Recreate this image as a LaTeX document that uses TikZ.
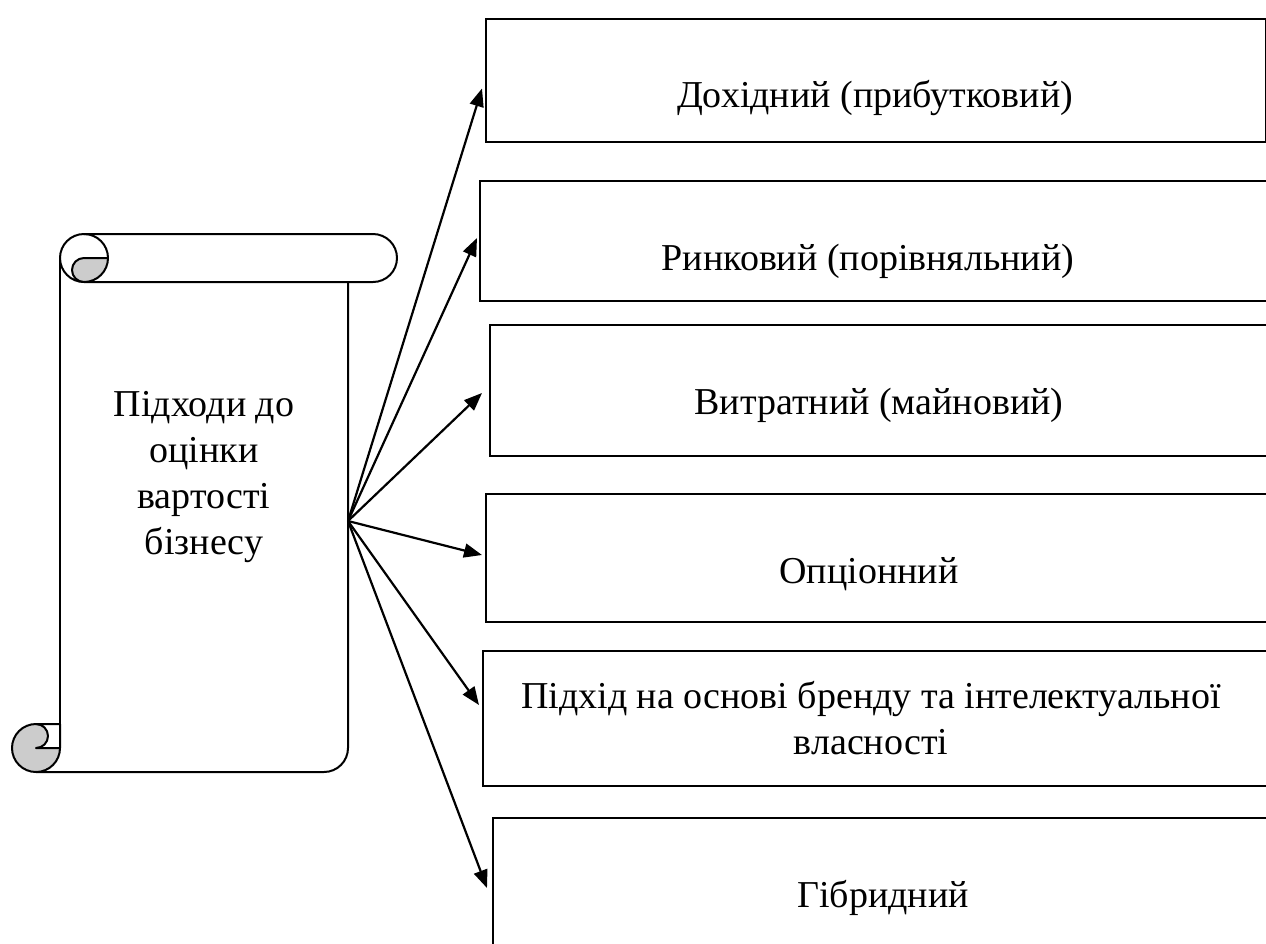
\documentclass[tikz,border=0pt]{standalone}
\usepackage{fontspec}
\setmainfont{Liberation Serif}
\usetikzlibrary{arrows.meta,positioning}
\definecolor{scrgrey}{HTML}{CCCCCC}

\begin{document}
\begin{tikzpicture}[
  x=0.5pt,y=-0.5pt,
  font=\fontsize{19}{23}\selectfont,
  box/.style={draw,line width=1pt,anchor=north west,inner sep=0pt,minimum width=400pt},
  txt/.style={anchor=base,inner sep=0pt,align=center},
  roll/.style={draw,line width=1pt,line join=round},
  >={Triangle[length=9pt,width=7pt]}]
\useasboundingbox (0,0) rectangle (1266,944);
\clip (0,0) rectangle (1266,944);
% scroll
\filldraw[roll,fill=white] (84,234) -- (373,234) arc[start angle=-90,end angle=90,radius=24]
  -- (84,282) arc[start angle=90,end angle=270,radius=24] -- cycle;
\draw[roll] (84,234) arc[start angle=-90,end angle=0,radius=24];
\filldraw[roll,fill=scrgrey] (84,258) -- (108,258) arc[start angle=0,end angle=90,radius=24]
  arc[start angle=90,end angle=270,radius=12] -- cycle;
\draw[roll] (60,258) -- (60,748);
\draw[roll] (348,282) -- (348,748) arc[start angle=0,end angle=90,radius=24] -- (36,772);
\filldraw[roll,fill=scrgrey] (36,748) circle[radius=24];
\filldraw[roll,fill=white] (36,724) -- (60,724) -- (60,748) -- (36,748)
  arc[start angle=90,end angle=-90,radius=12] -- cycle;
\node[align=center,inner sep=0pt] (title) at (204,477) {Підходи до\\оцінки\\вартості\\бізнесу};
% approach boxes
\node[box,minimum width=390pt,minimum height=61.5pt] (inc) at (485,18) {};
\node[box,minimum height=60pt] (mkt) at (479,180) {};
\node[box,minimum height=65.5pt] (cost) at (489,324) {};
\node[box,minimum height=64pt] (opt) at (485,493) {};
\node[box,minimum height=67.5pt] (brand) at (482,650) {};
\node[box,minimum height=71.5pt] (hyb) at (492,817) {};
\node[txt] (incT) at (875,107) {Дохідний (прибутковий)};
\node[txt] (mktT) at (868,270) {Ринковий (порівняльний)};
\node[txt] (costT) at (879,414) {Витратний (майновий)};
\node[txt] (optT) at (869,583) {Опціонний};
\node[txt] (brandT) at (871,754) {Підхід на основі бренду та інтелектуальної\\власності};
\node[txt] (hybT) at (883,907) {Гібридний};
% arrows
\coordinate (hub) at (348,521);
\draw[->,line width=1.1pt] (hub) -- ([shift={(-3,8)}]inc.west);
\draw[->,line width=1.1pt] (hub) -- ([shift={(-2,-3)}]mkt.west);
\draw[->,line width=1.1pt] (hub) -- ([shift={(-7,2.5)}]cost.west);
\draw[->,line width=1.1pt] (hub) -- ([shift={(-3,-3)}]opt.west);
\draw[->,line width=1.1pt] (hub) -- ([shift={(-3,-13.5)}]brand.west);
\draw[->,line width=1.1pt] (hub) -- ([shift={(-5,-1.5)}]hyb.west);
\end{tikzpicture}
\end{document}
